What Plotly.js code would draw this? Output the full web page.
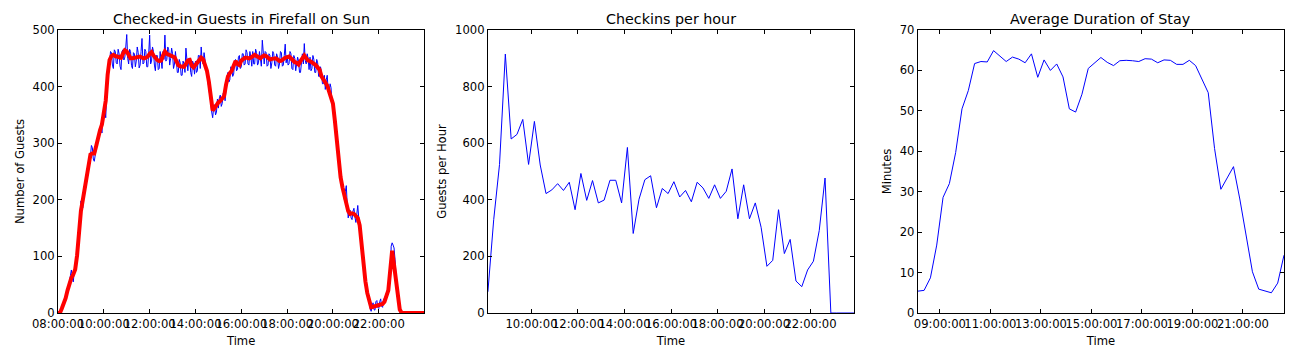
<!DOCTYPE html>
<html>
<head>
<meta charset="utf-8">
<script src="https://cdn.plot.ly/plotly-3.0.1.min.js"></script>
<style>html,body{margin:0;padding:0;background:#fff;}#chart{width:1298px;height:362px;}</style>
</head>
<body>
<div id="chart"></div>
<script>
// ---------- Panel 1: checked-in guests, raw counts (2.5-minute samples from 08:00) ----------
const guestsRawStart = "08:00:00";
const guestsRawStepMin = 2.5;
const guestsRaw = [
  // 08
  0,0, 0,2, 6,10, 14,20, 28,30, 35,48, 58,66, 76,60, 55,72, 80,84, 98,125, 160,172,
  // 09
  198,190, 186,205, 212,222, 232,248, 258,270, 278,296, 292,272, 268,285, 290,300, 305,318, 322,335, 318,345,
  // 10
  352,360, 345,398, 425,432, 440,462, 460,438, 432,465, 462,442, 440,466, 458,436, 430,462, 465,447, 452,470,
  // 11
  492,450, 440,466, 462,437, 432,460, 458,435, 445,470, 460,433, 438,462, 485,440, 442,466, 462,435, 435,458,
  // 12
  491,440, 445,470, 462,438, 428,455, 455,430, 432,462, 450,432, 462,448, 491,445, 448,470, 465,438, 450,468,
  // 13
  458,432, 440,462, 445,425, 425,448, 442,420, 420,445, 440,425, 468,438, 428,450, 450,425, 418,445, 440,422,
  // 14
  445,425, 428,455, 455,432, 470,445, 440,460, 448,430, 425,415, 395,385, 372,355, 345,362, 368,350, 355,378,
  // 15
  362,380, 385,365, 370,388, 390,375, 398,415, 425,408, 412,435, 432,418, 422,445, 448,428, 430,452, 455,432,
  // 16
  435,458, 458,438, 440,465, 460,440, 438,462, 452,436, 462,440, 440,466, 460,438, 442,462, 450,436, 482,448,
  // 17
  440,462, 460,436, 438,458, 455,432, 442,462, 458,438, 436,458, 452,432, 440,462, 460,436, 438,455, 475,442,
  // 18
  455,438, 440,462, 458,432, 430,455, 450,428, 438,452, 445,425, 425,450, 458,440, 476,446, 440,458, 450,430,
  // 19
  452,428, 432,455, 448,425, 425,448, 442,418, 418,435, 425,405, 405,420, 395,412, 420,392, 388,405, 398,372,
  // 20
  368,352, 340,318, 302,285, 262,250, 238,232, 228,212, 200,215, 225,190, 168,180, 182,168, 165,180, 185,170,
  // 21
  160,175, 190,168, 150,135, 118,100, 82,70, 56,45, 34,25, 16,8, 3,15, 18,6, 5,20, 22,10,
  // 22
  8,20, 25,12, 10,25, 22,30, 35,42, 45,68, 62,118, 124,120, 115,95, 58,42, 28,12, 2,0,
  // 23
  0,0, 0,0, 0,0, 0,0, 0,0, 0,0, 0,0, 0,0, 0,0, 0,0, 0,0, 0,0,
  // 24:00
  0
];

// ---------- Panel 1: smoothed counts (5-minute samples from 08:00) ----------
const guestsSmoothStart = "08:00:00";
const guestsSmoothStepMin = 5;
const guestsSmooth = [
  0, 0, 8, 16, 26, 40, 55, 62, 68, 77, 102, 150,
  180, 200, 218, 238, 263, 280, 282, 282, 295, 312, 323, 333,
  350, 375, 421, 447, 454, 456, 454, 453, 452, 451, 458, 464,
  462, 455, 450, 450, 451, 451, 452, 453, 451, 450, 451, 453,
  458, 461, 455, 450, 447, 445, 446, 455, 462, 458, 456, 455,
  453, 452, 445, 438, 436, 435, 435, 440, 446, 447, 437, 434,
  438, 442, 448, 451, 448, 440, 428, 409, 380, 358, 362, 368,
  372, 375, 378, 383, 403, 418, 424, 428, 437, 445, 440, 438,
  446, 449, 451, 451, 450, 451, 454, 456, 454, 451, 450, 453,
  455, 454, 450, 448, 449, 450, 450, 448, 445, 446, 449, 451,
  452, 453, 450, 445, 443, 442, 439, 445, 452, 455, 450, 446,
  445, 443, 441, 438, 434, 430, 418, 412, 407, 402, 391, 380,
  370, 340, 300, 265, 240, 222, 208, 197, 180, 175, 176, 175,
  172, 168, 155, 120, 85, 56, 35, 18, 10, 11, 12, 13,
  13, 14, 16, 20, 28, 40, 75, 110, 85, 55, 28, 6,
  0, 0, 0, 0, 0, 0, 0, 0, 0, 0, 0, 0,
  0
];

// ---------- Panel 2: checkins per hour (15-minute samples from 08:07:30) ----------
const checkinsStart = "08:07:30";
const checkinsStepMin = 15;
const checkinsPerHour = [
  75, 330, 525, 915, 615, 631, 684, 525, 677, 523,
  422, 435, 457, 433, 462, 365, 493, 398, 468, 389,
  399, 469, 469, 389, 585, 281, 402, 471, 485, 372,
  440, 422, 464, 410, 433, 393, 462, 442, 405, 453,
  405, 430, 509, 333, 453, 333, 389, 303, 165, 186,
  365, 210, 260, 113, 93, 152, 183, 291, 477, 0,
  0, 0, 0, 0
];

// ---------- Panel 3: average duration of stay (15-minute samples from 08:07:30) ----------
const stayStart = "08:07:30";
const stayStepMin = 15;
const stayMinutes = [
  5.4, 5.6, 8.7, 16.8, 28.6, 32.0, 39.7, 50.5, 55.0, 61.7,
  62.2, 62.1, 64.9, 63.5, 62.2, 63.3, 62.8, 61.9, 64.1, 58.3,
  62.6, 60.0, 61.6, 58.4, 50.5, 49.7, 54.1, 60.5, 61.9, 63.2,
  62.0, 61.2, 62.4, 62.5, 62.4, 62.2, 62.9, 62.8, 61.9, 62.6,
  62.5, 61.5, 61.5, 62.5, 61.2, 58.0, 54.5, 40.7, 30.6, 33.4,
  36.2, 28.2, 19.7, 10.2, 5.9, 5.5, 5.0, 7.4, 14.3
];

// ---------- titles / labels ----------
const panelTitles = ["Checked-in Guests in Firefall on Sun", "Checkins per hour", "Average Duration of Stay"];
const yTitles = ["Number of Guests", "Guests per Hour", "Minutes"];
const xTitle = "Time";

// helper: timestamps on a regular grid (day is arbitrary)
function timeGrid(start, stepMin, n) {
  const [h, m, s] = start.split(":").map(Number);
  const base = Date.UTC(2000, 0, 1, h, m, s);
  const out = [];
  for (let i = 0; i < n; i++) {
    const d = new Date(base + Math.round(i * stepMin * 60000));
    out.push(d.toISOString().replace("T", " ").slice(0, 19));
  }
  return out;
}
const tRaw = timeGrid(guestsRawStart, guestsRawStepMin, guestsRaw.length);
const tSmooth = timeGrid(guestsSmoothStart, guestsSmoothStepMin, guestsSmooth.length);
const tCheckins = timeGrid(checkinsStart, checkinsStepMin, checkinsPerHour.length);
const tStay = timeGrid(stayStart, stayStepMin, stayMinutes.length);

const blue = "#0000ff", red = "#ff0000";
const traces = [
  {x: tRaw, y: guestsRaw, type: "scatter", mode: "lines", line: {color: blue, width: 1}, xaxis: "x", yaxis: "y"},
  {x: tSmooth, y: guestsSmooth, type: "scatter", mode: "lines", line: {color: red, width: 4}, xaxis: "x", yaxis: "y"},
  {x: tCheckins, y: checkinsPerHour, type: "scatter", mode: "lines", line: {color: blue, width: 1}, xaxis: "x2", yaxis: "y2"},
  {x: tStay, y: stayMinutes, type: "scatter", mode: "lines", line: {color: blue, width: 1}, xaxis: "x3", yaxis: "y3"}
];

const W = 1298, H = 362;
const L = 58, R = W - 1284.3, T = 30, B = H - 313;
const PW = W - L - R;
const dom = (a, b) => [(a - L) / PW, (b - L) / PW];
const tickFont = {family: "DejaVu Sans", size: 11.6, color: "#000"};
const titleFont = {family: "DejaVu Sans", size: 11.6, color: "#000"};

function xAxis(domain, range, tick0, anchor) {
  return {
    domain: domain, anchor: anchor, type: "date", range: range,
    tick0: tick0, dtick: 7200000, tickformat: "%H:%M:%S", tickangle: 0,
    ticks: "inside", ticklen: 4, tickwidth: 1, tickcolor: "#000",
    showline: true, linecolor: "#000", linewidth: 1, mirror: "ticks",
    showgrid: false, zeroline: false, tickfont: tickFont,
    title: {text: xTitle, font: titleFont, standoff: 6}
  };
}
function yAxis(range, dtick, anchor, title) {
  return {
    domain: [0, 1], anchor: anchor, range: range, dtick: dtick, tick0: 0,
    ticks: "inside", ticklen: 4, tickwidth: 1, tickcolor: "#000",
    showline: true, linecolor: "#000", linewidth: 1, mirror: "ticks",
    showgrid: false, zeroline: false, tickfont: tickFont,
    title: {text: title, font: titleFont, standoff: 5}
  };
}

const d1 = dom(58, 424.3), d2 = dom(488, 854.3), d3 = dom(918, 1284.3);
const layout = {
  width: W, height: H,
  margin: {l: L, r: R, t: T, b: B, pad: 0},
  paper_bgcolor: "#fff", plot_bgcolor: "#fff",
  showlegend: false,
  xaxis: xAxis(d1, ["2000-01-01 08:00:00", "2000-01-01 23:59:00"], "2000-01-01 08:00:00", "y"),
  yaxis: yAxis([0, 500], 100, "x", yTitles[0]),
  xaxis2: xAxis(d2, ["2000-01-01 08:07:30", "2000-01-01 23:52:30"], "2000-01-01 10:00:00", "y2"),
  yaxis2: yAxis([0, 1000], 200, "x2", yTitles[1]),
  xaxis3: xAxis(d3, ["2000-01-01 08:07:30", "2000-01-01 22:37:30"], "2000-01-01 09:00:00", "y3"),
  yaxis3: yAxis([0, 70], 10, "x3", yTitles[2]),
  annotations: [d1, d2, d3].map((d, i) => ({
    text: panelTitles[i], xref: "paper", yref: "paper",
    x: (d[0] + d[1]) / 2, y: 1, xanchor: "center", yanchor: "bottom", yshift: 1,
    showarrow: false, font: {family: "DejaVu Sans", size: 14.3, color: "#000"}
  }))
};

Plotly.newPlot("chart", traces, layout, {displayModeBar: false, staticPlot: true});
</script>
</body>
</html>
